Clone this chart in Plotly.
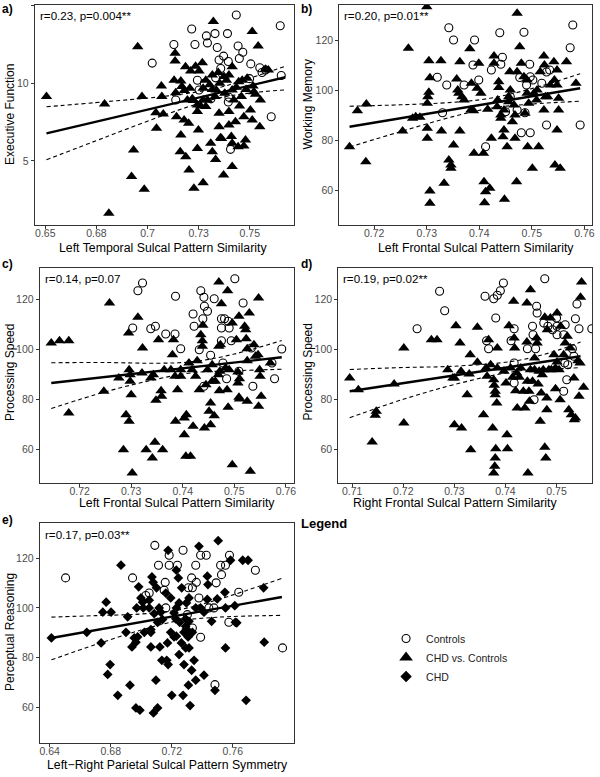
import plotly.graph_objects as go

W, H = 600, 777

# ---------------- Panel a: Executive Function vs Left Temporal ----------------
a_ctrl_x = [0.7434, 0.7649, 0.7216, 0.7288, 0.7330, 0.7391, 0.7293, 0.7232, 0.7129, 0.7341,
            0.7443, 0.7466, 0.7023, 0.7350, 0.7395, 0.7449, 0.7372, 0.7505, 0.7549, 0.7577,
            0.7244, 0.7333, 0.7499, 0.7560, 0.7654, 0.7278, 0.7252, 0.7310, 0.7398, 0.7395,
            0.7138, 0.7358, 0.7605, 0.7406]
a_ctrl_y = [14.4, 13.7, 13.5, 13.05, 13.2, 13.2, 12.6, 12.5, 12.5, 12.3,
            12.4, 12.0, 11.3, 11.5, 11.4, 11.6, 11.75, 11.25, 11.0, 10.85,
            10.2, 10.35, 10.3, 10.7, 10.5, 10.0, 9.57, 9.0, 9.1, 8.8,
            8.93, 10.95, 7.85, 5.75]
a_chd_x = [0.6506, 0.6790, 0.6952, 0.6973, 0.6932, 0.6922, 0.6984, 0.6811, 0.7068, 0.7070,
           0.7041, 0.7077, 0.7044, 0.7135, 0.7135, 0.7130, 0.7163, 0.7138, 0.7142, 0.7163,
           0.7160, 0.7187, 0.7179, 0.7201, 0.7207, 0.7186, 0.7211, 0.7235, 0.7268, 0.7219,
           0.7203, 0.7227, 0.7272, 0.7244, 0.7249, 0.7244, 0.7260, 0.7309, 0.7317, 0.7333,
           0.7322, 0.7317, 0.7346, 0.7353, 0.7350, 0.7357, 0.7362, 0.7372, 0.7414, 0.7386,
           0.7398, 0.7414, 0.7414, 0.7422, 0.7398, 0.7430, 0.7398, 0.7410, 0.7443, 0.7471,
           0.7450, 0.7459, 0.7463, 0.7512, 0.7541, 0.7516, 0.7520, 0.7552, 0.7471, 0.7549,
           0.7577, 0.7591, 0.7446, 0.7487, 0.7374, 0.7317, 0.7285, 0.7272, 0.7293, 0.7330,
           0.7180, 0.7252, 0.7224, 0.7285, 0.7272, 0.7350, 0.7414, 0.7479, 0.7503, 0.7512,
           0.7528, 0.7168, 0.7195, 0.7244, 0.7378, 0.7336, 0.7304, 0.7434, 0.7482]
a_chd_y = [9.15, 8.67, 12.36, 9.15, 5.71, 4.0, 3.18, 1.63, 9.83, 9.15,
           8.11, 8.03, 7.1, 11.93, 11.44, 10.2, 10.15, 9.4, 7.85, 6.67,
           5.6, 5.28, 7.64, 7.43, 9.68, 11.07, 10.8, 11.1, 11.33, 9.0,
           4.42, 3.24, 3.6, 5.8, 7.0, 8.6, 8.54, 6.14, 5.6, 5.1,
           13.97, 9.6, 10.7, 10.0, 8.07, 6.5, 6.45, 4.1, 4.64, 10.2,
           10.54, 11.07, 9.57, 8.93, 8.18, 7.53, 7.32, 6.57, 5.92, 5.96,
           8.54, 9.15, 10.2, 13.33, 12.4, 9.83, 9.46, 8.93, 7.85, 7.21,
           10.9, 10.86, 10.1, 10.32, 10.43, 10.54, 10.2, 9.68, 8.93, 9.15,
           9.53, 10.8, 8.9, 8.5, 8.93, 7.21, 6.14, 6.35, 8.28, 7.64,
           9.3, 9.8, 8.93, 8.18, 9.36, 9.57, 9.9, 9.75, 9.6]
a_fit_x = [0.6506, 0.7674]
a_fit_y = [6.78, 10.39]
a_ci_x = [0.6506, 0.68, 0.71, 0.733, 0.75, 0.7674]
a_ci_hi = [8.49, 8.82, 9.19, 9.66, 10.33, 11.1]
a_ci_lo = [5.08, 6.56, 8.04, 9.00, 9.37, 9.58]

# ---------------- Panel b: Working Memory vs Left Frontal ----------------
b_ctrl_x = [0.7342, 0.7351, 0.7391, 0.7439, 0.7485, 0.7578, 0.7573, 0.7320, 0.7338, 0.7330,
            0.7371, 0.7399, 0.7388, 0.7423, 0.7441, 0.7444, 0.7496, 0.7528, 0.7534, 0.7497,
            0.7477, 0.7502, 0.7490, 0.7519, 0.7450, 0.7472, 0.7487, 0.7480, 0.7497, 0.7528,
            0.7412, 0.7592, 0.7459]
b_ctrl_y = [124.9, 120, 120, 122.9, 123.1, 126, 116.9, 105.1, 102, 90.9,
            102, 104, 110, 108, 110.3, 113.1, 110.3, 107.2, 108, 105.3,
            105, 104, 102, 102.7, 91.3, 92, 90.9, 82.9, 82.9, 86,
            77.3, 86, 97.3]
b_chd_x = [0.7153, 0.7168, 0.7185, 0.7184, 0.7265, 0.7254, 0.7273, 0.7279, 0.7287, 0.7304,
           0.7304, 0.7302, 0.7301, 0.7301, 0.7301, 0.7306, 0.7306, 0.7306, 0.7328, 0.7327,
           0.7300, 0.7333, 0.7342, 0.7346, 0.7346, 0.7351, 0.7357, 0.7359, 0.7363, 0.7361,
           0.7367, 0.7371, 0.7363, 0.7382, 0.7385, 0.7384, 0.7389, 0.7390, 0.7396, 0.7399,
           0.7403, 0.7408, 0.7409, 0.7412, 0.7420, 0.7410, 0.7416, 0.7423, 0.7428, 0.7428,
           0.7437, 0.7437, 0.7435, 0.7434, 0.7441, 0.7441, 0.7447, 0.7447, 0.7445, 0.7448,
           0.7453, 0.7456, 0.7456, 0.7458, 0.7459, 0.7463, 0.7466, 0.7468, 0.7468, 0.7472,
           0.7472, 0.7477, 0.7480, 0.7485, 0.7487, 0.7491, 0.7491, 0.7492, 0.7471, 0.7494,
           0.7501, 0.7504, 0.7509, 0.7510, 0.7513, 0.7516, 0.7523, 0.7524, 0.7523, 0.7526,
           0.7530, 0.7535, 0.7542, 0.7543, 0.7544, 0.7548, 0.7551, 0.7551, 0.7548, 0.7554,
           0.7566, 0.7584, 0.7548]
b_chd_y = [77.3, 91.7, 94.4, 71.3, 116.7, 83.6, 88.7, 89.3, 89.1, 111.7,
           99.1, 97.3, 94.7, 84.7, 80.7, 104.9, 59.6, 54.7, 83.6, 111.7,
           133.3, 62.7, 72, 70, 68.7, 78, 104.4, 100, 111.3, 98.7,
           97.3, 96, 83.6, 116.5, 102.7, 92, 91.7, 74.7, 100.7, 110.7,
           98.7, 74.7, 63.3, 59.3, 60.7, 54.9, 92.3, 80.7, 113.6, 110.7,
           103.3, 101, 96, 93.3, 90, 88.7, 84, 92, 81.3, 56.3,
           77.3, 97.3, 95.3, 107.3, 100, 87.3, 94, 90, 80.7, 107.3,
           130.7, 117.3, 110.7, 105.3, 90.7, 104, 98.7, 77.3, 63.3, 94.7,
           68.7, 98.7, 96, 100, 77.3, 107.3, 113.6, 110, 92, 97.3,
           97.3, 102, 111.3, 104, 70, 84, 92, 96.7, 108, 68.7,
           111.3, 102.7, 102]
b_fit_x = [0.7153, 0.7592]
b_fit_y = [85.3, 100.7]
b_ci_x = [0.7153, 0.725, 0.735, 0.742, 0.75, 0.7592]
b_ci_hi = [93.5, 94.09, 95.08, 96.67, 100.55, 106.5]
b_ci_lo = [77.2, 83.35, 89.36, 92.67, 94.39, 95.5]

# ---------------- Panel c: Processing Speed vs Left Frontal ----------------
c_ctrl_x = [0.7322, 0.7313, 0.7303, 0.7338, 0.7347, 0.7367, 0.7385, 0.7386, 0.7396, 0.7420,
            0.7422, 0.7435, 0.7441, 0.7442, 0.7439, 0.7448, 0.7461, 0.7475, 0.7481, 0.7475,
            0.7488, 0.7490, 0.7501, 0.7517, 0.7432, 0.7454, 0.7475, 0.7494, 0.7478, 0.7485,
            0.7509, 0.7536, 0.7533, 0.7573, 0.7578, 0.7592, 0.7441]
c_ctrl_y = [126.4, 123.3, 108.4, 108.1, 109.1, 106, 106, 121.1, 100.1, 114,
            109.1, 123.3, 120.7, 117.1, 112.1, 115.1, 120.1, 112.1, 112.1, 108.4,
            111.1, 108.4, 128.1, 118.4, 99.7, 97.5, 103.3, 103.3, 94.4, 88.1,
            91.1, 85.1, 100.4, 94.4, 88.1, 100, 85.1]
c_chd_x = [0.7145, 0.7161, 0.7179, 0.7179, 0.7258, 0.7247, 0.7276, 0.7285, 0.7290, 0.7296,
           0.7295, 0.7296, 0.7298, 0.7298, 0.7300, 0.7302, 0.7313, 0.7321, 0.7322, 0.7329,
           0.7338, 0.7343, 0.7341, 0.7346, 0.7348, 0.7353, 0.7358, 0.7359, 0.7361, 0.7364,
           0.7377, 0.7380, 0.7382, 0.7385, 0.7386, 0.7390, 0.7396, 0.7396, 0.7403, 0.7403,
           0.7407, 0.7406, 0.7415, 0.7420, 0.7412, 0.7418, 0.7425, 0.7432, 0.7435, 0.7438,
           0.7438, 0.7439, 0.7442, 0.7445, 0.7448, 0.7451, 0.7454, 0.7454, 0.7457, 0.7457,
           0.7461, 0.7463, 0.7469, 0.7470, 0.7471, 0.7472, 0.7473, 0.7470, 0.7475, 0.7483,
           0.7486, 0.7487, 0.7488, 0.7490, 0.7496, 0.7496, 0.7504, 0.7507, 0.7509, 0.7510,
           0.7507, 0.7509, 0.7510, 0.7520, 0.7522, 0.7523, 0.7525, 0.7525, 0.7525, 0.7529,
           0.7531, 0.7538, 0.7541, 0.7547, 0.7546, 0.7547, 0.7549, 0.7550, 0.7552, 0.7570,
           0.7428]
c_chd_y = [102.4, 103.3, 103.3, 74.4, 118.4, 83.1, 88.4, 59.7, 73.7, 71.1,
           106.4, 91.7, 89.7, 87.1, 81.7, 50.4, 112.7, 90.4, 100.4, 59.7,
           88.4, 89.7, 56.4, 62.7, 79.5, 103.7, 83.3, 81.1, 59.7, 91.7,
           91.7, 97.7, 103.7, 89.1, 71.1, 83.7, 91.7, 89.1, 65.7, 72.4,
           73.7, 57.1, 57.1, 69.1, 94.4, 91.7, 89.1, 83.7, 105.7, 103.3,
           101.1, 109.5, 68.4, 85.7, 91.7, 75.1, 69.7, 78.4, 93.7, 87.1,
           73.3, 87.1, 89.7, 101.1, 83.3, 91.1, 101.7, 126.8, 118.1, 92.4,
           83.7, 123.3, 76.7, 91.7, 110.4, 53.7, 103.7, 90.8, 113.1, 88.1,
           86.4, 80.7, 80.0, 109.1, 107.7, 104.1, 100.1, 95.3, 79.1, 114.4,
           51.1, 101.7, 97.1, 120.4, 97.7, 77.1, 91.7, 89.1, 81.1, 94.4,
           95.3]
c_fit_x = [0.7145, 0.7592]
c_fit_y = [86.4, 96.7]
c_ci_x = [0.7145, 0.725, 0.735, 0.742, 0.75, 0.7592]
c_ci_hi = [94.5, 94.6, 94.3, 94.93, 97.98, 103.4]
c_ci_lo = [76.2, 82.88, 87.96, 90.53, 91.3, 91.9]

# ---------------- Panel d: Processing Speed vs Right Frontal ----------------
d_ctrl_x = [0.7271, 0.7281, 0.7227, 0.7360, 0.7377, 0.7384, 0.7390, 0.7396, 0.7381, 0.7363,
            0.7367, 0.7417, 0.7411, 0.7443, 0.7459, 0.7453, 0.7454, 0.7461, 0.7462, 0.7477,
            0.7483, 0.7475, 0.7492, 0.7500, 0.7501, 0.7501, 0.7514, 0.7517, 0.7537, 0.7540,
            0.7544, 0.7569, 0.7531, 0.7534, 0.7522, 0.7520, 0.7514, 0.7417, 0.7417, 0.7456,
            0.7516]
d_ctrl_y = [123.1, 115.3, 108.1, 121.1, 120.1, 121.5, 123.3, 126.4, 112.4, 103.3,
            100.1, 108.1, 103.3, 100.1, 100.1, 109.1, 105.7, 117.1, 114.4, 128.1,
            109.1, 110.4, 107.7, 112.4, 109.1, 105.7, 105.7, 109.7, 112.1, 118,
            108.1, 108.1, 100.1, 97.1, 93.7, 87.7, 83.1, 86.4, 94.4, 79.7,
            94.4]
d_chd_x = [0.7095, 0.7112, 0.7139, 0.7147, 0.7145, 0.7182, 0.7201, 0.7201, 0.7255, 0.7266,
           0.7287, 0.7297, 0.7300, 0.7300, 0.7303, 0.7313, 0.7314, 0.7311, 0.7325, 0.7329,
           0.7331, 0.7332, 0.7345, 0.7345, 0.7357, 0.7362, 0.7364, 0.7367, 0.7371, 0.7375,
           0.7377, 0.7378, 0.7380, 0.7380, 0.7380, 0.7379, 0.7377, 0.7381, 0.7383, 0.7384,
           0.7384, 0.7397, 0.7401, 0.7403, 0.7404, 0.7407, 0.7410, 0.7414, 0.7416, 0.7417,
           0.7418, 0.7420, 0.7422, 0.7423, 0.7427, 0.7430, 0.7435, 0.7438, 0.7442, 0.7442,
           0.7443, 0.7446, 0.7447, 0.7449, 0.7444, 0.7449, 0.7453, 0.7457, 0.7457, 0.7461,
           0.7462, 0.7464, 0.7466, 0.7468, 0.7470, 0.7472, 0.7474, 0.7477, 0.7477, 0.7479,
           0.7481, 0.7481, 0.7482, 0.7485, 0.7488, 0.7490, 0.7495, 0.7498, 0.7498, 0.7501,
           0.7501, 0.7505, 0.7507, 0.7508, 0.7514, 0.7517, 0.7521, 0.7524, 0.7527, 0.7529,
           0.7534, 0.7535, 0.7537, 0.7542, 0.7544, 0.7546, 0.7549, 0.7547, 0.7553]
d_chd_y = [88.4, 83.7, 62.8, 75.1, 73.5, 86, 70.4, 100.4, 103.7, 103.7,
           91.7, 88.4, 69.7, 88.4, 109.3, 91.1, 68.4, 102.4, 81.7, 90,
           97.7, 59.7, 108.7, 94.7, 73.7, 92.4, 89.1, 103.7, 93.7, 68.4,
           87.7, 85.5, 83.1, 81.7, 56.4, 53.1, 50.4, 60.1, 78.4, 100.4,
           92.4, 91.1, 86.4, 65.7, 60.1, 109.3, 92.4, 88.7, 119.1, 104.4,
           100.4, 83.3, 90.4, 76.4, 88.7, 92.4, 83.1, 76.4, 118.4, 102.8,
           87.1, 83.1, 79.1, 91.7, 50.4, 123.7, 87.1, 96.4, 91.7, 104.4,
           102.4, 86, 91.1, 71.1, 82.4, 89.7, 91.7, 112.7, 60.7, 56.4,
           75.7, 80.4, 107.7, 91.7, 112.4, 91.7, 97.7, 92.4, 84.1, 114.4,
           94.8, 91.7, 79.7, 109.1, 97.7, 102.4, 105.1, 75.7, 100.4, 73.7,
           88.4, 71.7, 72.4, 95.3, 81.1, 94.4, 126.8, 120.7, 84.7]
d_fit_x = [0.7095, 0.7547]
d_fit_y = [83.1, 97.1]
d_ci_x = [0.7095, 0.72, 0.73, 0.742, 0.75, 0.7547]
d_ci_hi = [91.8, 92.6, 93.12, 95.26, 99.31, 102.8]
d_ci_lo = [72.5, 79.88, 85.78, 91.08, 91.97, 92.6]

# ---------------- Panel e: Perceptual Reasoning vs Parietal Symmetry ----------------
e_ctrl_x = [0.7089, 0.7183, 0.7274, 0.7389, 0.7426, 0.7578, 0.7113, 0.7183, 0.7237, 0.7357,
            0.7520, 0.7552, 0.7748, 0.6943, 0.7157, 0.7330, 0.7361, 0.7309, 0.7335, 0.7491,
            0.7526, 0.7052, 0.7030, 0.7150, 0.7639, 0.7378, 0.7161, 0.7443, 0.7476, 0.7302,
            0.7335, 0.7574, 0.7389, 0.7483, 0.7926, 0.6504]
e_ctrl_y = [125.2, 121.2, 123.2, 121.2, 121.2, 121.2, 117.2, 117.2, 117.2, 117.2,
            117.2, 117.2, 115.2, 112.1, 110.3, 112.1, 110.3, 108.1, 108.1, 110.1,
            113.4, 106.0, 105.0, 107.1, 106.3, 104.0, 100.0, 100.0, 100.0, 97.3,
            91.9, 94.2, 88.2, 69.1, 83.9, 112.1]
e_chd_x = [0.7176, 0.7378, 0.7504, 0.6867, 0.7230, 0.7243, 0.7585, 0.7665, 0.7700, 0.7070,
           0.7078, 0.7433, 0.7437, 0.6983, 0.7100, 0.7265, 0.7548, 0.7161, 0.6998, 0.7009,
           0.7052, 0.7193, 0.7313, 0.7296, 0.7433, 0.7498, 0.6770, 0.6748, 0.6802, 0.6911,
           0.6970, 0.7013, 0.7052, 0.7117, 0.7248, 0.7230, 0.7357, 0.7389, 0.7411, 0.7552,
           0.7613, 0.7085, 0.7128, 0.7139, 0.7107, 0.7215, 0.7226, 0.7252, 0.7291, 0.7291,
           0.7313, 0.7461, 0.7617, 0.6900, 0.6976, 0.7063, 0.7193, 0.7230, 0.7296, 0.7317,
           0.6954, 0.7020, 0.7063, 0.7280, 0.7335, 0.6737, 0.6965, 0.6939, 0.7063, 0.7122,
           0.7172, 0.7215, 0.7263, 0.7307, 0.7291, 0.7313, 0.7552, 0.7248, 0.7135, 0.7167,
           0.7176, 0.7280, 0.7346, 0.7330, 0.6796, 0.6780, 0.7096, 0.7357, 0.7411, 0.7309,
           0.6926, 0.6846, 0.7200, 0.7274, 0.7483, 0.7687, 0.7320, 0.6965, 0.6991, 0.7107,
           0.7080, 0.6411, 0.6643, 0.7802, 0.7806, 0.7626]
e_chd_y = [123.2, 124.8, 127.1, 117.2, 115.2, 112.1, 119.2, 119.2, 119.2, 112.5,
           110.3, 112.8, 109.4, 108.5, 108.1, 108.1, 106.3, 106.0, 104.0, 102.3,
           103.1, 104.0, 104.0, 102.0, 103.4, 103.6, 102.3, 98.3, 98.3, 96.4,
           100.0, 100.0, 100.0, 100.0, 102.0, 100.0, 100.0, 100.0, 98.3, 100.0,
           100.9, 97.7, 98.3, 95.3, 94.2, 98.0, 95.6, 94.2, 95.6, 92.6,
           94.6, 94.6, 94.2, 90.2, 88.3, 91.3, 90.2, 88.6, 91.5, 89.7,
           87.9, 90.2, 90.2, 90.2, 90.2, 85.9, 86.2, 84.3, 84.3, 84.3,
           85.9, 88.3, 85.9, 88.3, 83.9, 83.9, 83.9, 81.2, 78.9, 78.9,
           77.2, 77.2, 78.9, 74.9, 77.2, 73.2, 70.9, 70.9, 72.9, 68.9,
           68.9, 64.8, 64.8, 64.8, 66.8, 62.8, 60.7, 59.7, 58.8, 59.7,
           57.7, 87.9, 90.2, 108.1, 86.2, 94.0]
e_fit_x = [0.6411, 0.7922]
e_fit_y = [87.9, 104.4]
e_ci_x = [0.6411, 0.67, 0.70, 0.723, 0.75, 0.7922]
e_ci_hi = [96.3, 96.89, 97.55, 99.05, 103.32, 111.9]
e_ci_lo = [79.1, 85.23, 91.11, 94.65, 96.26, 97.0]

# ---------------- text ----------------
stat_texts = ["r=0.23, p=0.004**", "r=0.20, p=0.01**", "r=0.14, p=0.07",
              "r=0.19, p=0.02**", "r=0.17, p=0.03**"]
x_titles = ["Left Temporal Sulcal Pattern Similarity", "Left Frontal Sulcal Pattern Similarity",
            "Left Frontal Sulcal Pattern Similarity", "Right Frontal Sulcal Pattern Similarity",
            "Left\u2212Right Parietal Sulcal Pattern Symmetry"]
y_titles = ["Executive Function", "Working Memory", "Processing Speed", "Processing Speed",
            "Perceptual Reasoning"]
panel_labels = ["a)", "b)", "c)", "d)", "e)"]
x_tickvals = [[0.65, 0.675, 0.7, 0.725, 0.75], [0.72, 0.73, 0.74, 0.75, 0.76],
              [0.72, 0.73, 0.74, 0.75, 0.76], [0.71, 0.72, 0.73, 0.74, 0.75],
              [0.64, 0.68, 0.72, 0.76, 0.80]]
x_ticktext = [["0.65", "0.68", "0.7", "0.73", "0.75"], ["0.72", "0.73", "0.74", "0.75", "0.76"],
              ["0.72", "0.73", "0.74", "0.75", "0.76"], ["0.71", "0.72", "0.73", "0.74", "0.75"],
              ["0.64", "0.68", "0.72", "0.76", "0.8"]]
y_tickvals = [[5, 10, 15], [60, 80, 100, 120], [60, 80, 100, 120], [60, 80, 100, 120],
              [60, 80, 100, 120]]
legend_names = ["Controls", "CHD vs. Controls", "CHD"]

# ---------------- layout geometry (window pixels) ----------------
boxes = [(35, 295, 5, 225), (341, 595, 5, 225), (40, 295, 268, 483),
         (340, 595, 268, 483), (40, 295, 523, 743)]
x_ranges = [[0.6449, 0.7714], [0.71335, 0.76146], [0.71228, 0.76148], [0.70727, 0.75695],
            [0.6335, 0.7998]]
y_ranges = [[0.88, 15.04], [46, 134], [46.4, 132.4], [46.4, 132.4], [45.6, 134.2]]
xtitle_pos = [(164, 248), (478, 248), (178, 503), (458, 503), (168, 765)]
ytitle_pos = [(10, 114), (310, 104), (10, 372), (310, 372), (10, 632)]
label_pos = [(0, 9), (300, 9), (0, 264), (300, 264), (0, 520)]


def px(sx):
    return sx / W


def py(sy):
    return 1 - sy / H


FONT = "Liberation Sans, Arial, Helvetica, sans-serif"
fig = go.Figure()

panels = [
    (a_ctrl_x, a_ctrl_y, a_chd_x, a_chd_y, "triangle-up", a_fit_x, a_fit_y, a_ci_x, a_ci_hi, a_ci_lo),
    (b_ctrl_x, b_ctrl_y, b_chd_x, b_chd_y, "triangle-up", b_fit_x, b_fit_y, b_ci_x, b_ci_hi, b_ci_lo),
    (c_ctrl_x, c_ctrl_y, c_chd_x, c_chd_y, "triangle-up", c_fit_x, c_fit_y, c_ci_x, c_ci_hi, c_ci_lo),
    (d_ctrl_x, d_ctrl_y, d_chd_x, d_chd_y, "triangle-up", d_fit_x, d_fit_y, d_ci_x, d_ci_hi, d_ci_lo),
    (e_ctrl_x, e_ctrl_y, e_chd_x, e_chd_y, "diamond", e_fit_x, e_fit_y, e_ci_x, e_ci_hi, e_ci_lo),
]

annotations = []
for i, (cx, cy, tx, ty, sym, fx, fy, cix, cihi, cilo) in enumerate(panels):
    n = i + 1
    xa = "x" if n == 1 else f"x{n}"
    ya = "y" if n == 1 else f"y{n}"
    size = 10 if sym == "triangle-up" else 7.5
    fig.add_trace(go.Scatter(x=tx, y=ty, mode="markers", xaxis=xa, yaxis=ya, showlegend=False,
                             marker=dict(symbol=sym, size=size, color="black",
                                         line=dict(width=0))))
    fig.add_trace(go.Scatter(x=cx, y=cy, mode="markers", xaxis=xa, yaxis=ya, showlegend=False,
                             marker=dict(symbol="circle-open", size=8, color="black",
                                         line=dict(width=1.1, color="black"))))
    for band in (cihi, cilo):
        fig.add_trace(go.Scatter(x=cix, y=band, mode="lines", xaxis=xa, yaxis=ya,
                                 showlegend=False,
                                 line=dict(color="black", width=1.1, dash="4px,3px",
                                           shape="spline")))
    fig.add_trace(go.Scatter(x=fx, y=fy, mode="lines", xaxis=xa, yaxis=ya, showlegend=False,
                             line=dict(color="black", width=2.4)))

    l, r, t, b = boxes[i]
    xkey = "xaxis" if n == 1 else f"xaxis{n}"
    ykey = "yaxis" if n == 1 else f"yaxis{n}"
    fig.layout[xkey] = dict(domain=[px(l), px(r)], range=x_ranges[i], anchor=ya,
                            tickvals=x_tickvals[i], ticktext=x_ticktext[i],
                            showgrid=False, zeroline=False, showline=True, mirror=True,
                            linecolor="#333333", linewidth=1.2, ticks="outside", ticklen=3,
                            ticklabelstandoff=-5,
                            tickcolor="#333333", tickfont=dict(size=10.5, color="#4d4d4d"))
    fig.layout[ykey] = dict(domain=[py(b), py(t)], range=y_ranges[i], anchor=xa,
                            tickvals=y_tickvals[i],
                            showgrid=False, zeroline=False, showline=True, mirror=True,
                            linecolor="#333333", linewidth=1.2, ticks="outside", ticklen=3,
                            tickcolor="#333333", tickfont=dict(size=10.5, color="#4d4d4d"))

    xt, yt = xtitle_pos[i]
    annotations.append(dict(text=x_titles[i], xref="paper", yref="paper", x=px(xt), y=py(yt),
                            xanchor="center", yanchor="middle", showarrow=False,
                            font=dict(size=12.3, color="black")))
    xt, yt = ytitle_pos[i]
    annotations.append(dict(text=y_titles[i], xref="paper", yref="paper", x=px(xt), y=py(yt),
                            xanchor="center", yanchor="middle", showarrow=False, textangle=-90,
                            font=dict(size=12, color="black")))
    annotations.append(dict(text=stat_texts[i], xref="paper", yref="paper",
                            x=px(l + 3), y=py(t + 11), xanchor="left", yanchor="middle",
                            showarrow=False, font=dict(size=11.6, color="black")))
    lx, ly = label_pos[i]
    annotations.append(dict(text="<b>" + panel_labels[i] + "</b>", xref="paper", yref="paper",
                            x=px(lx), y=py(ly), xanchor="left", yanchor="middle",
                            showarrow=False, font=dict(size=12, color="black")))

annotations.append(dict(text="<b>Legend</b>", xref="paper", yref="paper", x=px(301),
                        y=py(523), xanchor="left", yanchor="middle", showarrow=False,
                        font=dict(size=13, color="black")))

leg_syms = ["circle-open", "triangle-up", "diamond"]
leg_sizes = [8, 10, 7.5]
for name, s, sz in zip(legend_names, leg_syms, leg_sizes):
    fig.add_trace(go.Scatter(x=[None], y=[None], mode="markers", name=name, showlegend=True,
                             marker=dict(symbol=s, size=sz, color="black",
                                         line=dict(width=1.1, color="black"))))

fig.update_layout(
    width=W, height=H, margin=dict(l=0, r=0, t=0, b=0),
    paper_bgcolor="white", plot_bgcolor="white",
    font=dict(family=FONT, size=11, color="black"),
    annotations=annotations,
    legend=dict(x=px(388), y=py(624), xanchor="left", yanchor="top",
                bgcolor="rgba(0,0,0,0)", font=dict(size=10.5, color="#222222"),
                itemwidth=30, tracegroupgap=0),
)

# remove the default 8px page margin so the figure sits at the window corner
fig.write_html("out.html", config={"displayModeBar": False},
               post_script="document.body.style.margin='0';document.body.style.overflow='hidden';")
